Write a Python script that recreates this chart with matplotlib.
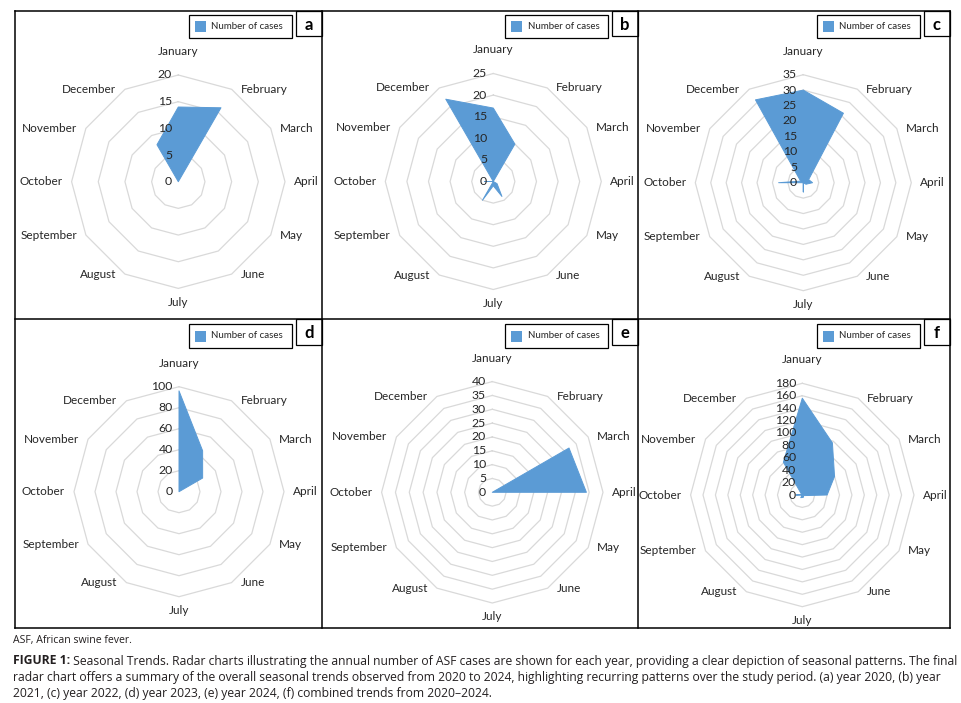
import numpy as np
import matplotlib
matplotlib.use("Agg")
import matplotlib.pyplot as plt
import matplotlib.font_manager as fm
from matplotlib.transforms import offset_copy
from matplotlib.patches import Rectangle
from matplotlib.lines import Line2D

_av = {f.name for f in fm.fontManager.ttflist}
CHART_FONT = "Lato" if "Lato" in _av else "DejaVu Sans"
CAP_FONT = next((f for f in ("Liberation Sans Narrow", "Open Sans", "Lato") if f in _av), "DejaVu Sans")
plt.rcParams["font.family"] = [CHART_FONT, "DejaVu Sans"]

# ---- data ----
MONTHS = ["January", "February", "March", "April", "May", "June",
          "July", "August", "September", "October", "November", "December"]
cases_2020 = [14, 16, 0, 0, 0, 0, 0, 0, 0, 0, 0, 8]
cases_2021 = [17, 10, 0, 0, 1, 4, 1, 5, 0, 2, 0, 22]
cases_2022 = [30, 26, 2, 3, 1, 0, 3, 0, 0, 8, 1, 31]
cases_2023 = [96, 45, 26, 0, 0, 0, 0, 0, 0, 0, 0, 0]
cases_2024 = [0, 0, 32, 34, 0, 0, 0, 0, 0, 0, 0, 0]
cases_all = [156, 97, 60, 40, 2, 4, 4, 5, 0, 10, 1, 61]
PANEL_LETTERS = ["a", "b", "c", "d", "e", "f"]
AXIS_MAX = [20, 25, 35, 100, 40, 180]
AXIS_STEP = [5, 5, 5, 20, 5, 20]
LEGEND_LABEL = "Number of cases"

SERIES = [cases_2020, cases_2021, cases_2022, cases_2023, cases_2024, cases_all]

W, H = 962, 703
BLUE = "#5B9BD5"
RING = "#D9D9D9"
TXT = "#262626"

# layout in pixels: chart centre x, y and outer radius
CENTRES = [(178.3, 181.7, 106.7), (493.3, 181.5, 108), (803.3, 182.7, 108),
           (179, 491.7, 105), (492.3, 492.3, 110.7), (802.3, 495, 111.7)]
COL_X = [15, 322, 638, 950]
ROW_Y = [11, 319, 628]

fig = plt.figure(figsize=(W / 100, H / 100), dpi=100)
fx = lambda x: x / W
fy = lambda y: 1 - y / H

def hline(x0, x1, y, lw=1.1):
    fig.add_artist(Line2D([fx(x0), fx(x1)], [fy(y), fy(y)], color="k", lw=lw,
                          transform=fig.transFigure))

def vline(x, y0, y1, lw=1.1):
    fig.add_artist(Line2D([fx(x), fx(x)], [fy(y0), fy(y1)], color="k", lw=lw,
                          transform=fig.transFigure))

def box(x0, y0, x1, y1, lw=0.9, **kw):
    fig.add_artist(Rectangle((fx(x0), fy(y1)), fx(x1) - fx(x0), fy(y0) - fy(y1),
                             transform=fig.transFigure, lw=lw, **kw))

# panel frames
for y in ROW_Y:
    hline(COL_X[0], COL_X[-1], y)
for x in COL_X:
    vline(x, ROW_Y[0], ROW_Y[-1])

theta = np.arange(12) * 2 * np.pi / 12
th_c = np.append(theta, theta[0])

for k, (vals, vmax, step, (cx, cy, R)) in enumerate(zip(SERIES, AXIS_MAX, AXIS_STEP, CENTRES)):
    ax = fig.add_axes([fx(cx - R), fy(cy + R), 2 * R / W, 2 * R / H], projection="polar")
    ax.set_theta_offset(np.pi / 2)
    ax.set_theta_direction(-1)
    ax.set_ylim(0, vmax)
    ax.grid(False)
    ax.spines["polar"].set_visible(False)
    ax.set_xticks([]); ax.set_yticks([])
    ax.patch.set_alpha(0)
    for r in range(step, vmax + 1, step):
        ax.plot(th_c, [r] * 13, color=RING, lw=0.9, clip_on=False, zorder=1)
    v = np.append(vals, vals[0])
    ax.fill(th_c, v, facecolor=BLUE, edgecolor=BLUE, lw=0.7, joinstyle="round",
            zorder=2, clip_on=False)
    for r in range(0, vmax + 1, step):
        ax.text(0, r, str(r), transform=offset_copy(ax.transData, fig=fig, x=-4.5, y=0, units="points"),
                ha="right", va="center", fontsize=8.8, color=TXT, zorder=3)
    for i, m in enumerate(MONTHS):
        if i == 0:
            dx, dy, ha, va = 0, 13, "center", "bottom"
        elif i == 6:
            dx, dy, ha, va = 0, -6, "center", "top"
        elif i < 6:
            dx, dy, ha, va = 6.5, 0, "left", "center"
        else:
            dx, dy, ha, va = -6.5, 0, "right", "center"
        ax.text(theta[i], vmax, m, transform=offset_copy(ax.transData, fig=fig, x=dx, y=dy, units="points"),
                ha=ha, va=va, fontsize=8.5, color=TXT)

    # legend and panel letter
    col, row = k % 3, k // 3
    right = COL_X[col + 1]
    top = ROW_Y[row]
    ly0, ly1 = (15, 38) if row == 0 else (324, 348)
    box(right - 133, ly0, right - 30, ly1, facecolor="white", edgecolor="k")
    box(right - 127.3, (ly0 + ly1) / 2 - 5.5, right - 116.3, (ly0 + ly1) / 2 + 5.5, lw=0, facecolor=BLUE)
    fig.text(fx(right - 110.5), fy((ly0 + ly1) / 2), LEGEND_LABEL, fontsize=7, color=TXT,
             ha="left", va="center")
    by1 = 36 if row == 0 else 345
    box(right - 26, top, right, by1, facecolor="white", edgecolor="k")
    fig.text(fx(right - 13), fy((top + by1) / 2 + 1), PANEL_LETTERS[k], fontsize=12,
             fontweight="bold", ha="center", va="center", color="k")

# caption
renderer = fig.canvas.get_renderer()
def fit(t, width):
    w = t.get_window_extent(renderer).width
    t.set_fontsize(t.get_fontsize() * width / w)
    return t

CAP = "#231F20"
t0 = fig.text(fx(13), fy(641), "ASF, African swine fever.", family=CAP_FONT, fontsize=8,
              color=CAP, ha="left", va="center")
fit(t0, 120)
l2 = fig.text(fx(13), fy(677), "radar chart offers a summary of the overall seasonal trends observed from 2020 to 2024, "
              "highlighting recurring patterns over the study period. (a) year 2020, (b) year",
              family=CAP_FONT, fontsize=9, color=CAP, ha="left", va="center")
fit(l2, 942)
fs = l2.get_fontsize()
b1 = fig.text(fx(13), fy(661), "FIGURE 1:", family=CAP_FONT, fontsize=fs, fontweight="bold",
              color=CAP, ha="left", va="center")
wb = b1.get_window_extent(renderer).width
r1 = fig.text(fx(13 + wb), fy(661), " Seasonal Trends. Radar charts illustrating the annual number of ASF cases are shown "
              "for each year, providing a clear depiction of seasonal patterns. The final",
              family=CAP_FONT, fontsize=fs, color=CAP, ha="left", va="center")
fit(r1, 942 - wb)
fig.text(fx(13), fy(693), "2021, (c) year 2022, (d) year 2023, (e) year 2024, (f) combined trends from 2020\u20132024.",
         family=CAP_FONT, fontsize=fs, color=CAP, ha="left", va="center")

fig.savefig("out.png", dpi=100)
